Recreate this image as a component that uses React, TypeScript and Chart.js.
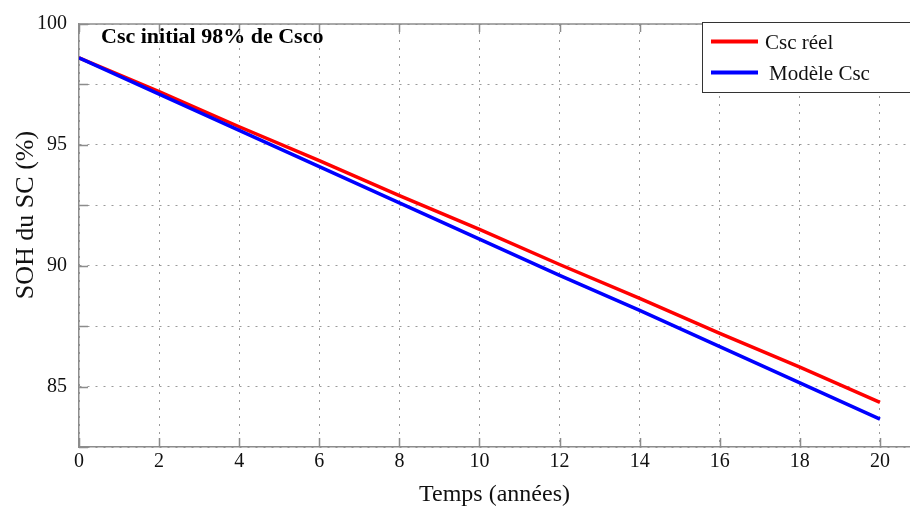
import React, { useEffect, useRef } from 'react';
import { Chart, registerables } from 'chart.js';

Chart.register(...registerables);

// ---- data ----
const years = [0, 2, 4, 6, 8, 10, 12, 14, 16, 18, 20];
const cscReel = [98.6, 97.2, 95.75, 94.35, 92.9, 91.5, 90.05, 88.65, 87.2, 85.8, 84.35];
const modeleCsc = [98.6, 97.1, 95.6, 94.1, 92.6, 91.1, 89.6, 88.15, 86.65, 85.15, 83.65];
const yTickLabels = [85, 90, 95, 100];
const seriesNames = ['Csc réel', 'Modèle Csc'];
const seriesColors = ['#ff0000', '#0000ff'];
const chartTitle = 'Csc initial 98% de Csco';
const xTitle = 'Temps (années)';
const yTitle = 'SOH du SC (%)';

const FONT = "'Liberation Serif', 'Times New Roman', serif";
const AXIS_COLOR = '#8c8c8c';
const GRID_COLOR = '#9a9a9a';
const TEXT_COLOR = '#111111';

const decor = {
  id: 'decor',
  beforeDatasetsDraw(chart: any) {
    const { ctx, chartArea: a, scales } = chart;
    ctx.save();
    ctx.strokeStyle = AXIS_COLOR;
    ctx.lineWidth = 1.5;
    ctx.beginPath();
    ctx.moveTo(a.left, a.top);
    ctx.lineTo(a.right + 2, a.top);
    ctx.stroke();
    ctx.beginPath();
    scales.x.ticks.forEach((t: any) => {
      const px = Math.round(scales.x.getPixelForValue(t.value)) + 0.5;
      ctx.moveTo(px, a.bottom);
      ctx.lineTo(px, a.bottom - 9);
      ctx.moveTo(px, a.top);
      ctx.lineTo(px, a.top + 8);
    });
    scales.y.ticks.forEach((t: any) => {
      const py = Math.round(scales.y.getPixelForValue(t.value)) + 0.5;
      ctx.moveTo(a.left, py);
      ctx.lineTo(a.left + 9, py);
    });
    ctx.stroke();
    ctx.restore();
  },
  afterDraw(chart: any) {
    const { ctx } = chart;
    ctx.save();
    // chart annotation title
    ctx.fillStyle = '#000';
    ctx.font = `bold 22px ${FONT}`;
    ctx.textAlign = 'left';
    ctx.textBaseline = 'alphabetic';
    ctx.fillText(chartTitle, 101, 43);

    // y axis title
    ctx.save();
    ctx.translate(33, 215);
    ctx.rotate(-Math.PI / 2);
    ctx.font = `26px ${FONT}`;
    ctx.fillStyle = TEXT_COLOR;
    ctx.textAlign = 'center';
    ctx.textBaseline = 'alphabetic';
    ctx.fillText(yTitle, 0, 0);
    ctx.restore();

    // legend
    ctx.fillStyle = '#ffffff';
    ctx.fillRect(702, 22.5, 220, 70);
    ctx.strokeStyle = '#333333';
    ctx.lineWidth = 1;
    ctx.strokeRect(702.5, 22.5, 220, 70);
    const rows = [41.5, 72.5];
    const textX = [765, 769];
    seriesNames.forEach((name, i) => {
      ctx.strokeStyle = seriesColors[i];
      ctx.lineWidth = 4;
      ctx.beginPath();
      ctx.moveTo(711, rows[i]);
      ctx.lineTo(758, rows[i]);
      ctx.stroke();
      ctx.fillStyle = TEXT_COLOR;
      ctx.font = `21px ${FONT}`;
      ctx.textAlign = 'left';
      ctx.textBaseline = 'alphabetic';
      ctx.fillText(name, textX[i], rows[i] + 7);
    });
    ctx.restore();
  },
};

export default function App() {
  const ref = useRef<HTMLCanvasElement>(null);

  useEffect(() => {
    if (!ref.current) return;
    Chart.defaults.font.family = FONT;
    const chart = new Chart(ref.current, {
      type: 'line',
      data: {
        datasets: [
          {
            label: seriesNames[0],
            data: years.map((x, i) => ({ x, y: cscReel[i] })),
            borderColor: seriesColors[0],
            borderWidth: 3.5,
            pointRadius: 0,
            tension: 0,
            order: 2,
          },
          {
            label: seriesNames[1],
            data: years.map((x, i) => ({ x, y: modeleCsc[i] })),
            borderColor: seriesColors[1],
            borderWidth: 3.5,
            pointRadius: 0,
            tension: 0,
            order: 1,
          },
        ],
      },
      options: {
        responsive: false,
        animation: false,
        layout: { padding: { top: 13, left: 0, right: 0, bottom: 0 } },
        plugins: { legend: { display: false }, tooltip: { enabled: false }, title: { display: false } },
        scales: {
          x: {
            type: 'linear',
            min: 0,
            max: 20.75,
            bounds: 'data',
            ticks: {
              stepSize: 2,
              includeBounds: false,
              maxTicksLimit: 30,
              padding: 3,
              color: TEXT_COLOR,
              font: { size: 20, family: FONT },
              maxRotation: 0,
            },
            grid: { color: GRID_COLOR, lineWidth: 1, drawTicks: false },
            border: { display: true, color: AXIS_COLOR, width: 1.5, dash: [2, 6] },
            title: {
              display: true,
              text: xTitle,
              color: TEXT_COLOR,
              font: { size: 24, family: FONT },
              padding: { top: 0, bottom: 3 },
            },
            afterFit: (s: any) => {
              s.height = 65;
            },
          },
          y: {
            type: 'linear',
            min: 82.5,
            max: 100,
            bounds: 'data',
            ticks: {
              stepSize: 2.5,
              maxTicksLimit: 30,
              padding: 12,
              color: TEXT_COLOR,
              font: { size: 20, family: FONT },
              callback: (v: any) => (yTickLabels.includes(Number(v)) ? String(v) : ''),
            },
            grid: { color: GRID_COLOR, lineWidth: 1, drawTicks: false },
            border: { display: true, color: AXIS_COLOR, width: 1.5, dash: [2, 6] },
            afterFit: (s: any) => {
              s.width = 79;
            },
          },
        },
      } as any,
      plugins: [decor],
    });
    return () => chart.destroy();
  }, []);

  return (
    <div style={{ position: 'fixed', left: 0, top: 0, width: 910, height: 512, background: '#fff' }}>
      <canvas ref={ref} width={910} height={512} />
    </div>
  );
}
